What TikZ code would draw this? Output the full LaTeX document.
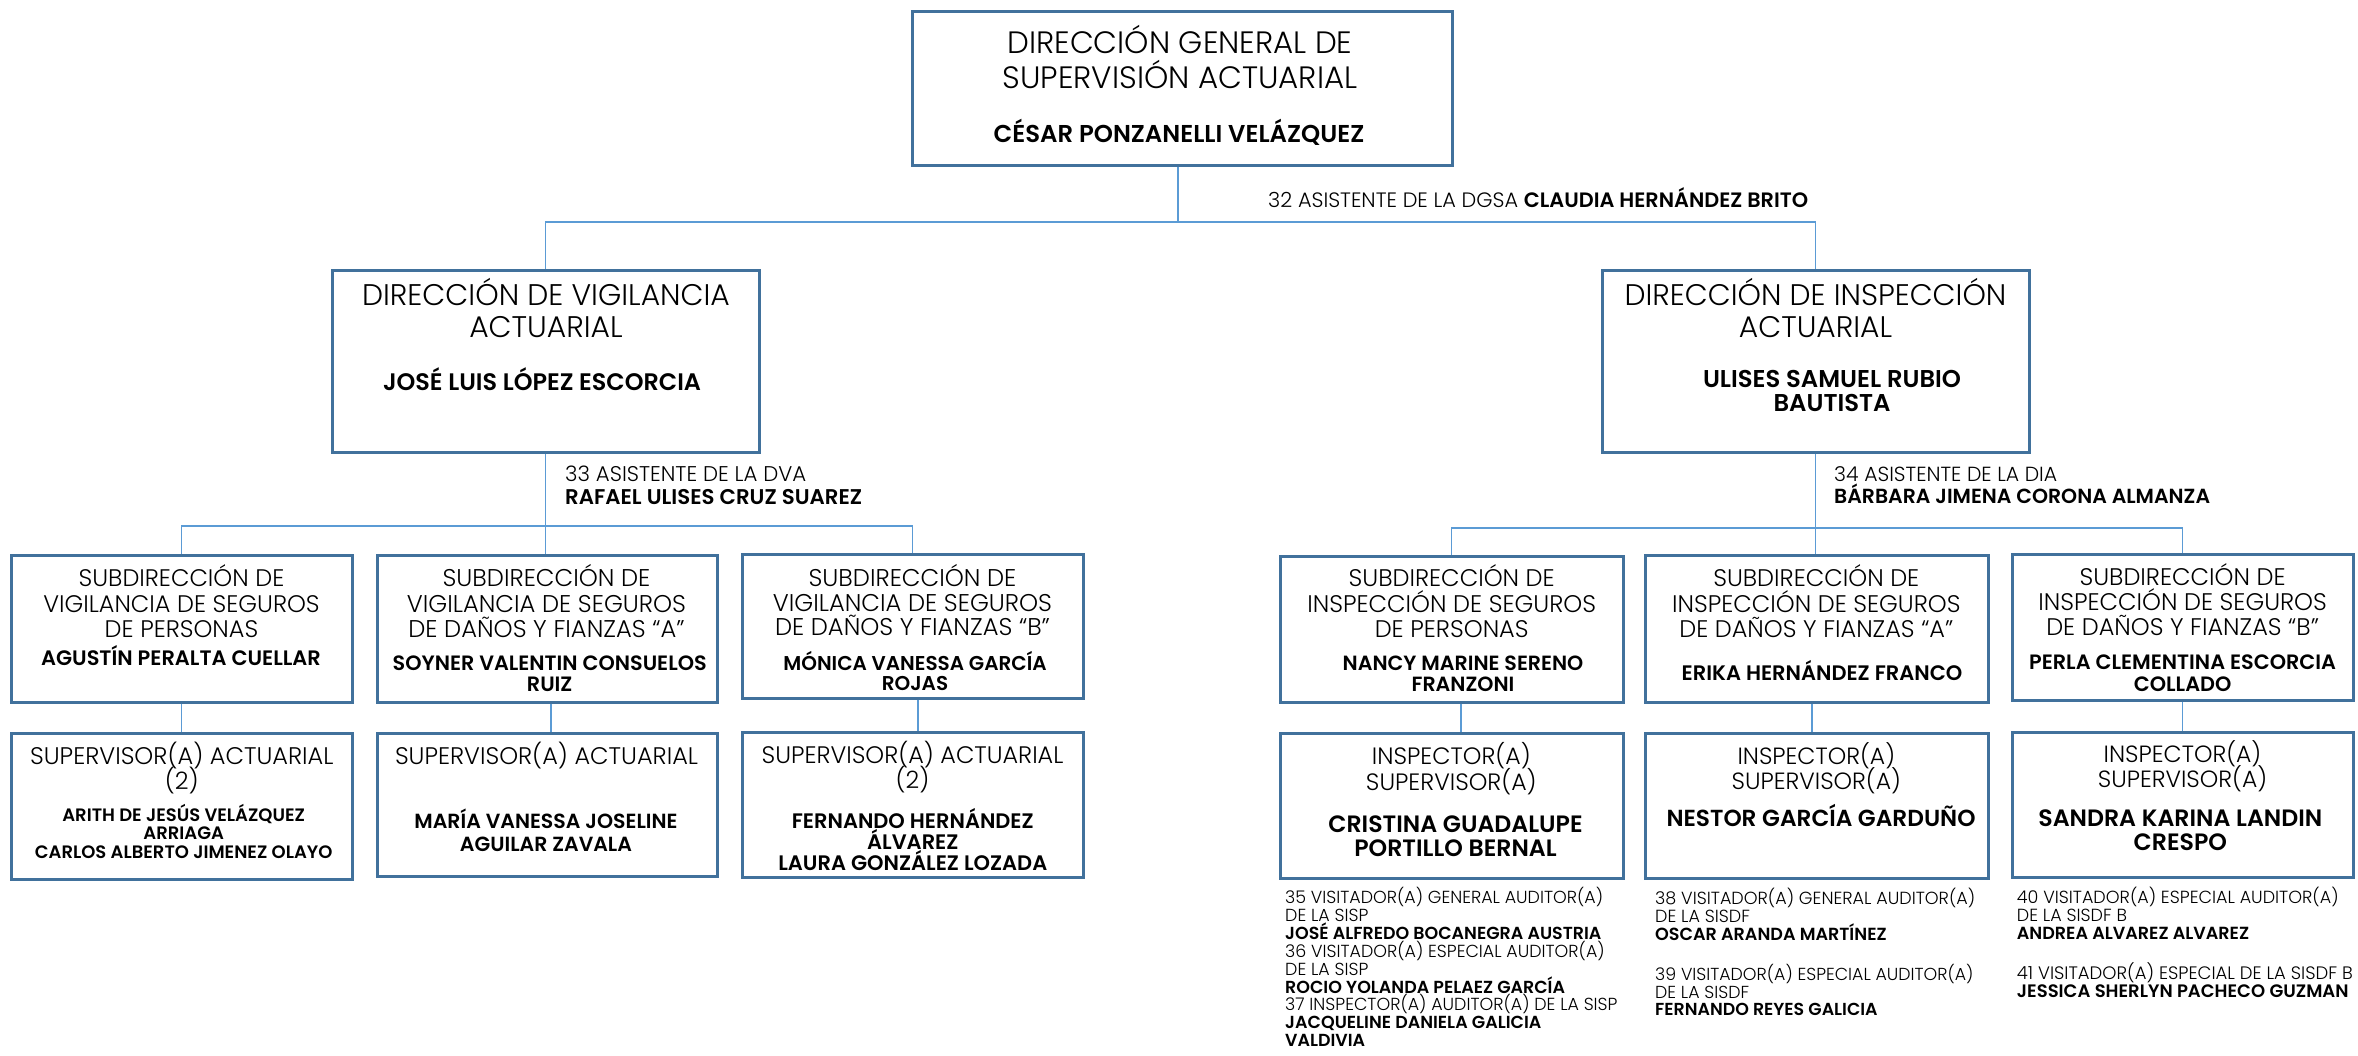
\documentclass[tikz,border=0pt]{standalone}
\usepackage{fontspec}
\setmainfont{Poppins Light}[BoldFont={Poppins SemiBold}]
\definecolor{boxc}{HTML}{41719C}
\definecolor{linec}{HTML}{5B9BD5}
\newlength\fitlen
% #1 target width of the sample (pt), #2 line spacing, #3 sample line
\newcommand\fitfont[3]{%
  \settowidth\fitlen{\fontsize{10}{12}\selectfont#3}%
  \pgfmathsetmacro\fitfs{10*#1/\fitlen}%
  \fontsize{\fitfs}{#2}\selectfont\lineskiplimit=-100pt\relax}
\newcommand\FL{\rule{0pt}{50pt}}
\begin{document}
\begin{tikzpicture}[x=1pt,y=-1pt,
 box/.style={draw=boxc,line width=3pt,inner sep=0pt},
 conn/.style={draw=linec,line width=1.6pt},
 tt/.style n args={3}{font={\fitfont{#1}{#2}{#3}},align=center,inner sep=0pt,anchor=north},
 tb/.style n args={3}{font={\bfseries\fitfont{#1}{#2}{#3}},align=center,inner sep=0pt,anchor=north},
 nl/.style n args={3}{font={\fitfont{#1}{#2}{#3}},align=left,inner sep=0pt,anchor=north west}]
\useasboundingbox[fill=white] (0,0) rectangle (2358,1055);
% coordinates of the bars
\coordinate (b1) at (0,222);
\coordinate (b2) at (0,526);
\coordinate (b3) at (0,528);
% boxes
\node[box,minimum width=540pt,minimum height=154pt] (dgsa) at (1182,88) {};
\node[box,minimum width=427pt,minimum height=182pt] (dva) at (545.5,361) {};
\node[box,minimum width=427pt,minimum height=182pt] (dia) at (1815.5,361) {};
\node[box,minimum width=341pt,minimum height=147pt] (s1) at (181.5,628.5) {};
\node[box,minimum width=340pt,minimum height=147pt] (s2) at (547,628.5) {};
\node[box,minimum width=341pt,minimum height=144pt] (s3) at (912.5,626) {};
\node[box,minimum width=343pt,minimum height=146pt] (i1) at (1451.5,629) {};
\node[box,minimum width=343pt,minimum height=147pt] (i2) at (1816.5,628.5) {};
\node[box,minimum width=341pt,minimum height=146pt] (i3) at (2182.5,627) {};
\node[box,minimum width=341pt,minimum height=146pt] (sa1) at (181.5,806) {};
\node[box,minimum width=340pt,minimum height=143pt] (sa2) at (547,804.5) {};
\node[box,minimum width=341pt,minimum height=145pt] (sa3) at (912.5,804.5) {};
\node[box,minimum width=343pt,minimum height=145pt] (is1) at (1451.5,805.5) {};
\node[box,minimum width=343pt,minimum height=145pt] (is2) at (1816.5,805.5) {};
\node[box,minimum width=341pt,minimum height=145pt] (is3) at (2182.5,804.5) {};
% connectors
\draw[conn] ([xshift=-4pt]dgsa.south) -- ([xshift=-4pt]dgsa.south |- b1);
\draw[conn] (dva.north) -- (dva.north |- b1) -- (dia.north |- b1) -- (dia.north);
\draw[conn] (dva.south) -- (dva.south |- s2.north);
\draw[conn] (s1.north) -- (s1.north |- b2) -- (s3.north |- b2) -- (s3.north);
\draw[conn] (dia.south) -- (dia.south |- i2.north);
\draw[conn] (i1.north) -- (i1.north |- b3) -- (i3.north |- b3) -- (i3.north);
\draw[conn] (s1.south) -- (sa1.north);
\draw[conn] ([xshift=4pt]s2.south) -- ([xshift=4pt]sa2.north);
\draw[conn] ([xshift=5.5pt]s3.south) -- ([xshift=5.5pt]sa3.north);
\draw[conn] ([xshift=9.5pt]i1.south) -- ([xshift=9.5pt]is1.north);
\draw[conn] ([xshift=-4.5pt]i2.south) -- ([xshift=-4.5pt]is2.north);
\draw[conn] (i3.south) -- (is3.north);
% texts (anchored 50pt above the first baseline)
\node[tt={345}{35}{DIRECCIÓN GENERAL DE}] (dgsaT) at (1180,3.3) {\FL DIRECCIÓN GENERAL DE\\SUPERVISIÓN ACTUARIAL};
\node[tb={370.7}{30}{CÉSAR PONZANELLI VELÁZQUEZ}] (dgsaN) at (1179,92.7) {\FL CÉSAR PONZANELLI VELÁZQUEZ};
\node[nl={540}{22}{32 ASISTENTE DE LA DGSA \textbf{CLAUDIA HERNÁNDEZ BRITO}}] (a32) at (1268,157.3) {\FL 32 ASISTENTE DE LA DGSA \textbf{CLAUDIA HERNÁNDEZ BRITO}};
\node[tt={367.8}{31.6}{DIRECCIÓN DE VIGILANCIA}] (dvaT) at (546,255.7) {\FL DIRECCIÓN DE VIGILANCIA\\ACTUARIAL};
\node[tb={318}{27}{JOSÉ LUIS LÓPEZ ESCORCIA}] (dvaN) at (542,340.7) {\FL JOSÉ LUIS LÓPEZ ESCORCIA};
\node[tt={381.7}{31.6}{DIRECCIÓN DE INSPECCIÓN}] (diaT) at (1815.5,255.7) {\FL DIRECCIÓN DE INSPECCIÓN\\ACTUARIAL};
\node[tb={258}{24.4}{ULISES SAMUEL RUBIO}] (diaN) at (1832,337.3) {\FL ULISES SAMUEL RUBIO\\BAUTISTA};
\node[nl={297}{22.3}{\textbf{RAFAEL ULISES CRUZ SUAREZ}}] (a33) at (565,431.7) {\FL 33 ASISTENTE DE LA DVA\\\textbf{RAFAEL ULISES CRUZ SUAREZ}};
\node[nl={375.9}{21.6}{\textbf{BÁRBARA JIMENA CORONA ALMANZA}}] (a34) at (1834,431.7) {\FL 34 ASISTENTE DE LA DIA\\\textbf{BÁRBARA JIMENA CORONA ALMANZA}};
\node[tt={276.3}{25.3}{VIGILANCIA DE SEGUROS}] (s1T) at (181.5,536.7) {\FL SUBDIRECCIÓN DE\\VIGILANCIA DE SEGUROS\\DE PERSONAS};
\node[tb={279.7}{22}{AGUSTÍN PERALTA CUELLAR}] (s1N) at (181,615.7) {\FL AGUSTÍN PERALTA CUELLAR};
\node[tt={276.3}{25.3}{DE DAÑOS Y FIANZAS “A”}] (s2T) at (546.5,536.7) {\FL SUBDIRECCIÓN DE\\VIGILANCIA DE SEGUROS\\DE DAÑOS Y FIANZAS “A”};
\node[tb={314}{21.7}{SOYNER VALENTIN CONSUELOS}] (s2N) at (549.7,620) {\FL SOYNER VALENTIN CONSUELOS\\RUIZ};
\node[tt={275}{24.5}{DE DAÑOS Y FIANZAS “B”}] (s3T) at (912.5,536.7) {\FL SUBDIRECCIÓN DE\\VIGILANCIA DE SEGUROS\\DE DAÑOS Y FIANZAS “B”};
\node[tb={263.3}{20.7}{MÓNICA VANESSA GARCÍA}] (s3N) at (915,620) {\FL MÓNICA VANESSA GARCÍA\\ROJAS};
\node[tt={288.7}{25.3}{INSPECCIÓN DE SEGUROS}] (i1T) at (1451.7,536.7) {\FL SUBDIRECCIÓN DE\\INSPECCIÓN DE SEGUROS\\DE PERSONAS};
\node[tb={240.7}{21.7}{NANCY MARINE SERENO}] (i1N) at (1463,620) {\FL NANCY MARINE SERENO\\FRANZONI};
\node[tt={288.5}{25.3}{INSPECCIÓN DE SEGUROS}] (i2T) at (1816.3,536.7) {\FL SUBDIRECCIÓN DE\\INSPECCIÓN DE SEGUROS\\DE DAÑOS Y FIANZAS “A”};
\node[tb={280.7}{22}{ERIKA HERNÁNDEZ FRANCO}] (i2N) at (1822,630) {\FL ERIKA HERNÁNDEZ FRANCO};
\node[tt={288.5}{25.3}{INSPECCIÓN DE SEGUROS}] (i3T) at (2182.6,535) {\FL SUBDIRECCIÓN DE\\INSPECCIÓN DE SEGUROS\\DE DAÑOS Y FIANZAS “B”};
\node[tb={306.8}{22.4}{PERLA CLEMENTINA ESCORCIA}] (i3N) at (2182.6,619.3) {\FL PERLA CLEMENTINA ESCORCIA\\COLLADO};
\node[tt={303.4}{25}{SUPERVISOR(A) ACTUARIAL}] (sa1T) at (181.8,714) {\FL SUPERVISOR(A) ACTUARIAL\\(2)};
\node[tb={297.6}{18.7}{CARLOS ALBERTO JIMENEZ OLAYO}] (sa1N) at (183.7,771) {\FL ARITH DE JESÚS VELÁZQUEZ\\ARRIAGA\\CARLOS ALBERTO JIMENEZ OLAYO};
\node[tt={303}{25}{SUPERVISOR(A) ACTUARIAL}] (sa2T) at (546.5,714) {\FL SUPERVISOR(A) ACTUARIAL};
\node[tb={263.2}{22.7}{MARÍA VANESSA JOSELINE}] (sa2N) at (546,778.3) {\FL MARÍA VANESSA JOSELINE\\AGUILAR ZAVALA};
\node[tt={301.7}{25}{SUPERVISOR(A) ACTUARIAL}] (sa3T) at (912.5,713.3) {\FL SUPERVISOR(A) ACTUARIAL\\(2)};
\node[tb={269}{21.2}{LAURA GONZÁLEZ LOZADA}] (sa3N) at (912.8,778.3) {\FL FERNANDO HERNÁNDEZ\\ÁLVAREZ\\LAURA GONZÁLEZ LOZADA};
\node[tt={170.7}{26}{SUPERVISOR(A)}] (is1T) at (1451.3,714) {\FL INSPECTOR(A)\\SUPERVISOR(A)};
\node[tb={254.3}{24}{CRISTINA GUADALUPE}] (is1N) at (1455.5,782.7) {\FL CRISTINA GUADALUPE\\PORTILLO BERNAL};
\node[tt={169.4}{25.3}{SUPERVISOR(A)}] (is2T) at (1816.3,714) {\FL INSPECTOR(A)\\SUPERVISOR(A)};
\node[tb={309}{25}{NESTOR GARCÍA GARDUÑO}] (is2N) at (1821,776) {\FL NESTOR GARCÍA GARDUÑO};
\node[tt={169.4}{24.6}{SUPERVISOR(A)}] (is3T) at (2182.5,712.7) {\FL INSPECTOR(A)\\SUPERVISOR(A)};
\node[tb={283.9}{24.7}{SANDRA KARINA LANDIN}] (is3N) at (2180.3,776) {\FL SANDRA KARINA LANDIN\\CRESPO};
% notes
\node[nl={317.9}{17.9}{35 VISITADOR(A) GENERAL AUDITOR(A)}] (n35) at (1285,853.3) {\FL 35 VISITADOR(A) GENERAL AUDITOR(A)\\DE LA SISP\\\textbf{JOSÉ ALFREDO BOCANEGRA AUSTRIA}\\36 VISITADOR(A) ESPECIAL AUDITOR(A)\\DE LA SISP\\\textbf{ROCIO YOLANDA PELAEZ GARCÍA}\\37 INSPECTOR(A) AUDITOR(A) DE LA SISP\\\textbf{JACQUELINE DANIELA GALICIA}\\\textbf{VALDIVIA}};
\node[nl={320}{18}{38 VISITADOR(A) GENERAL AUDITOR(A)}] (n38) at (1655,854) {\FL 38 VISITADOR(A) GENERAL AUDITOR(A)\\DE LA SISDF\\\textbf{OSCAR ARANDA MARTÍNEZ}};
\node[nl={318.3}{17.5}{39 VISITADOR(A) ESPECIAL AUDITOR(A)}] (n39) at (1655,930.7) {\FL 39 VISITADOR(A) ESPECIAL AUDITOR(A)\\DE LA SISDF\\\textbf{FERNANDO REYES GALICIA}};
\node[nl={321.7}{17.9}{40 VISITADOR(A) ESPECIAL AUDITOR(A)}] (n40) at (2016.7,853.3) {\FL 40 VISITADOR(A) ESPECIAL AUDITOR(A)\\DE LA SISDF B\\\textbf{ANDREA ALVAREZ ALVAREZ}};
\node[nl={336}{18}{41 VISITADOR(A) ESPECIAL DE LA SISDF B}] (n41) at (2016.7,929.3) {\FL 41 VISITADOR(A) ESPECIAL DE LA SISDF B\\\textbf{JESSICA SHERLYN PACHECO GUZMAN}};
\end{tikzpicture}
\end{document}
